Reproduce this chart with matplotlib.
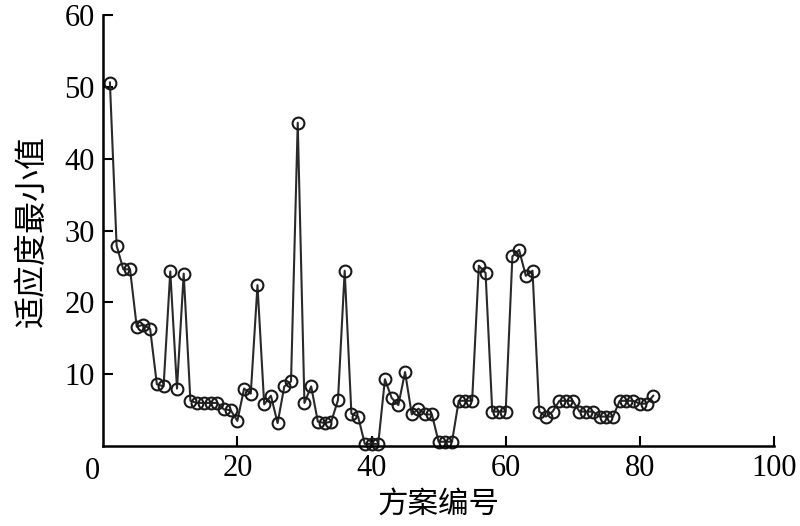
import matplotlib
matplotlib.use("Agg")
import matplotlib.pyplot as plt

# data
scheme_no = list(range(1, 83))
fitness_min = [
    50.6, 27.9, 24.6, 24.6, 16.6, 16.9, 16.3, 8.6, 8.3, 24.3,
    8.0, 24.0, 6.3, 6.0, 6.0, 6.0, 6.0, 5.1, 5.0, 3.5,
    8.0, 7.3, 22.4, 5.8, 7.0, 3.2, 8.3, 9.0, 45.0, 6.0,
    8.3, 3.4, 3.2, 3.4, 6.4, 24.4, 4.5, 4.1, 0.3, 0.3,
    0.3, 9.3, 6.7, 5.7, 10.3, 4.4, 5.2, 4.4, 4.4, 0.6,
    0.6, 0.6, 6.3, 6.3, 6.3, 25.1, 24.1, 4.8, 4.8, 4.8,
    26.4, 27.3, 23.7, 24.4, 4.8, 4.1, 4.8, 6.3, 6.3, 6.3,
    4.8, 4.8, 4.8, 4.1, 4.1, 4.1, 6.3, 6.3, 6.3, 5.9,
    5.9, 7.0,
]
x_ticks = [20, 40, 60, 80, 100]
y_ticks = [10, 20, 30, 40, 50, 60]
x_label = "方案编号"
y_label = "适应度最小值"

num_font = "Liberation Serif"
cjk_font = ["Noto Sans CJK SC", "DejaVu Sans"]

fig = plt.figure(figsize=(8.0, 5.26), dpi=100)
ax = fig.add_axes([0.129, 0.152, 0.8385, 0.8195])

ax.plot(scheme_no, fitness_min, color="#2a2a2a", lw=1.5,
        marker="o", ms=8.5, mfc="none", mec="#1a1a1a", mew=1.5, clip_on=False)

ax.set_xlim(0, 100)
ax.set_ylim(0, 60)
ax.set_xticks(x_ticks)
ax.set_yticks(y_ticks)
ax.set_xticklabels([str(v) for v in x_ticks], fontfamily=num_font, fontsize=22)
ax.set_yticklabels([str(v) for v in y_ticks], fontfamily=num_font, fontsize=22)
ax.tick_params(direction="in", length=7, width=1.5, colors="black", pad=6)

for s in ["top", "right"]:
    ax.spines[s].set_visible(False)
for s in ["left", "bottom"]:
    ax.spines[s].set_linewidth(1.8)

# origin label
ax.annotate("0", xy=(0, 0), xycoords="data", xytext=(-8, -18),
            textcoords="offset points", ha="center", va="center",
            fontfamily=num_font, fontsize=22)

ax.set_xlabel(x_label, fontfamily=cjk_font, fontsize=22, fontweight="light", labelpad=4)
ax.set_ylabel(y_label, fontfamily=cjk_font, fontsize=23, fontweight="light", labelpad=12)

fig.savefig("out.png", dpi=100)
